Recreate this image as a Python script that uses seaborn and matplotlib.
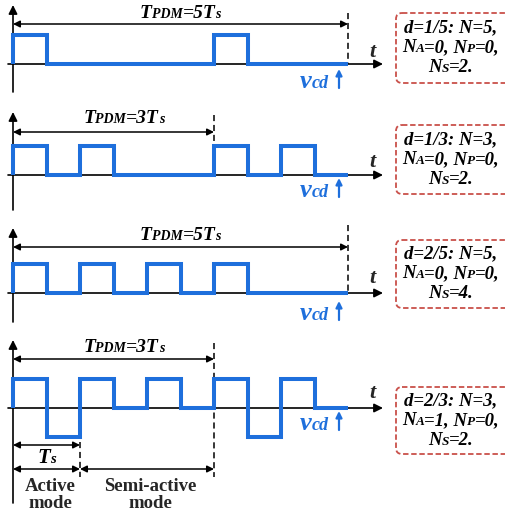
import re
import numpy as np
import pandas as pd
import seaborn as sns
import matplotlib
matplotlib.use("Agg")
import matplotlib.pyplot as plt
from matplotlib.patches import FancyBboxPatch
from matplotlib.offsetbox import TextArea, HPacker, AnnotationBbox

sns.set_style("white")
plt.rcParams["font.family"] = ["Liberation Serif", "DejaVu Serif"]

# ---------------- data ----------------
# time instants in units of Ts (half-period steps)
time_ts = [0, 0.5, 1, 1.5, 2, 2.5, 3, 3.5, 4, 4.5, 5]
# normalized v_cd level in each half period
levels_d15 = [1, 0, 0, 0, 0, 0, 1, 0, 0, 0]
levels_d13 = [1, 0, 1, 0, 0, 0, 1, 0, 1, 0]
levels_d25 = [1, 0, 1, 0, 1, 0, 1, 0, 0, 0]
levels_d23 = [1, -1, 1, 0, 1, 0, 1, -1, 1, 0]
series = [levels_d15, levels_d13, levels_d25, levels_d23]
tpdm_periods = [5, 3, 5, 3]
# {..} marks small (subscript-like) letters sitting on the baseline
tpdm_labels = ["T{PDM}=5T{s}", "T{PDM}=3T{s}", "T{PDM}=5T{s}", "T{PDM}=3T{s}"]
box_lines = [
    ["d=1/5: N=5,", "N{A}=0, N{P}=0,", "N{S}=2."],
    ["d=1/3: N=3,", "N{A}=0, N{P}=0,", "N{S}=2."],
    ["d=2/5: N=5,", "N{A}=0, N{P}=0,", "N{S}=4."],
    ["d=2/3: N=3,", "N{A}=1, N{P}=0,", "N{S}=2."],
]
vcd_label = "v{cd}"
ts_label = "T{s}"
mode_labels = ["Active\nmode", "Semi-active\nmode"]

# ---------------- layout (pixels) ----------------
W, H = 505, 516
BLUE = "#1E6FDC"
RED = "#C9504A"
PX_T0, PX_PER_TS, PX_PER_UNIT = 13, 67.0, 29.0
panels_px = [(0, 100, 64), (100, 215, 175), (215, 330, 293), (330, 516, 408)]
axis_extent = [(5, 92), (112, 210), (228, 322), (340, 503)]
tpdm_arrow_y = [24, 132, 247, 359]
tpdm_text_y = [13, 118, 235, 348]
dash_top = [13, 115, 225, 343]
t_label_y = [52, 162, 278, 393]
vcd_y = [81, 190, 313, 423]
boxes_px = [(13, 83), (125, 194), (240, 308), (387, 454)]

fig = plt.figure(figsize=(W / 100, H / 100), dpi=100)

ov = fig.add_axes([0, 0, 1, 1])
ov.set_xlim(0, W)
ov.set_ylim(H, 0)
ov.axis("off")


def rich(ax, x, y, markup, big, small, color="black", style="italic"):
    parts = re.split(r"(\{[^}]*\})", markup)
    kids = []
    for p in parts:
        if not p:
            continue
        if p.startswith("{"):
            s, fs = p[1:-1], small
        else:
            s, fs = p, big
        kids.append(TextArea(s, textprops=dict(fontsize=fs, fontweight="bold",
                                               fontstyle=style, color=color)))
    box = HPacker(children=kids, align="baseline", pad=0, sep=0)
    ab = AnnotationBbox(box, (x, y), xycoords="data", frameon=False, pad=0,
                        box_alignment=(0.5, 0.5), annotation_clip=False)
    ax.add_artist(ab)


arrow_k = dict(arrowstyle="-|>", color="black", lw=1.2, mutation_scale=13,
               shrinkA=0, shrinkB=0)
darrow_k = dict(arrowstyle="<|-|>", color="black", lw=1.1, mutation_scale=10,
                shrinkA=0, shrinkB=0)
bfi = dict(fontweight="bold", fontstyle="italic")

for i, (top, bot, zero) in enumerate(panels_px):
    ax = fig.add_axes([0, 1 - bot / H, 390 / W, (bot - top) / H])
    ax.set_xlim(-PX_T0 / PX_PER_TS, (390 - PX_T0) / PX_PER_TS)
    ax.set_ylim((zero - bot) / PX_PER_UNIT, (zero - top) / PX_PER_UNIT)
    ax.axis("off")
    u = lambda py: (zero - py) / PX_PER_UNIT
    xt = lambda px: (px - PX_T0) / PX_PER_TS

    # axes with arrows
    ya, yb = axis_extent[i]
    ax.annotate("", xy=(0, u(ya)), xytext=(0, u(yb)), arrowprops=arrow_k,
                annotation_clip=False, zorder=1)
    ax.annotate("", xy=(xt(383), 0), xytext=(xt(8), 0), arrowprops=arrow_k,
                annotation_clip=False, zorder=1)
    ax.text(xt(372), u(t_label_y[i]), "t", fontsize=16, ha="center", va="center", **bfi)

    # waveform
    lv = series[i]
    df = pd.DataFrame({"t": [time_ts[0]] + time_ts,
                       "v": [0] + lv + [lv[-1]]})
    sns.lineplot(data=df, x="t", y="v", sort=False, estimator=None,
                 drawstyle="steps-post", color=BLUE, lw=2.9, ax=ax, zorder=3,
                 solid_joinstyle="miter", solid_capstyle="butt")

    # TPDM
    P = tpdm_periods[i]
    ax.annotate("", xy=(P, u(tpdm_arrow_y[i])), xytext=(0, u(tpdm_arrow_y[i])),
                arrowprops=darrow_k, annotation_clip=False)
    cx = P / 2 + (0.15 if P == 3 else 0)
    rich(ax, cx, u(tpdm_text_y[i]), tpdm_labels[i], 14, 10)
    ybot = 0 if i < 3 else u(477)
    ax.plot([P, P], [u(dash_top[i]), ybot], color="black", lw=1.1,
            ls=(0, (4, 2.5)), zorder=2)

    # v_cd label
    rich(ax, xt(314), u(vcd_y[i]), vcd_label, 19, 13, color=BLUE)
    ax.annotate("", xy=(xt(339), u(vcd_y[i] - 12)), xytext=(xt(339), u(vcd_y[i] + 7)),
                arrowprops=dict(arrowstyle="-|>", color=BLUE, lw=1.6,
                                mutation_scale=9, shrinkA=0, shrinkB=0),
                annotation_clip=False)

    if i == 3:
        ax.plot([1, 1], [u(442), u(477)], color="black", lw=1.1,
                ls=(0, (4, 2.5)), zorder=2)
        ax.annotate("", xy=(1, u(445)), xytext=(0, u(445)), arrowprops=darrow_k,
                    annotation_clip=False)
        rich(ax, xt(47), u(458), ts_label, 15, 10.5)
        ax.annotate("", xy=(1, u(469)), xytext=(0, u(469)), arrowprops=darrow_k,
                    annotation_clip=False)
        ax.annotate("", xy=(3, u(469)), xytext=(1, u(469)), arrowprops=darrow_k,
                    annotation_clip=False)
        ax.text(xt(50), u(495), mode_labels[0], fontsize=13.5, fontweight="bold",
                ha="center", va="center", linespacing=1.0)
        ax.text(xt(150), u(495), mode_labels[1], fontsize=13.5, fontweight="bold",
                ha="center", va="center", linespacing=1.0)

# boxes
for (y0, y1), lines in zip(boxes_px, box_lines):
    ov.add_patch(FancyBboxPatch((396, y0), 120, y1 - y0,
                                boxstyle="round,pad=0,rounding_size=6",
                                fc="none", ec=RED, lw=1.3, ls=(0, (3, 1.5))))
    cy = (y0 + y1) / 2
    for k, line in enumerate(lines):
        rich(ov, 451, cy + (k - 1) * 20, line, 13.5, 9.5)

fig.savefig("out.png", dpi=100)
